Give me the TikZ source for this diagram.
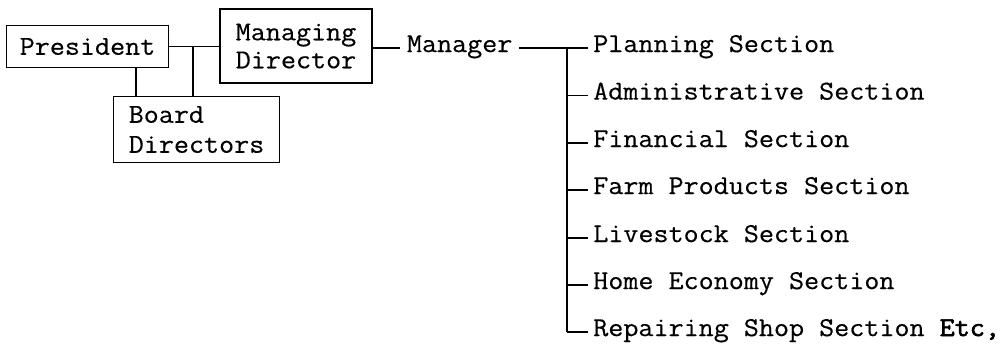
\documentclass[tikz,border=0pt]{standalone}
\usepackage{fontspec}
\setmonofont{Latin Modern Mono}[FakeStretch=1.07, FakeBold=0.4]
\newfontfamily\heavytt{Latin Modern Mono}[FakeStretch=1.07, FakeBold=2.2]
\begin{document}
\begin{tikzpicture}[x=0.75pt,y=-0.75pt,
  every node/.style={font=\fontsize{20.5pt}{21pt}\selectfont\ttfamily},
  box/.style={draw, line width=0.9pt, inner sep=0pt, align=center},
  label/.style={anchor=west, inner xsep=5pt, inner ysep=0pt, text height=0.61em, text depth=0pt},
  link/.style={line width=0.9pt}]
\useasboundingbox (0,0) rectangle (1007,343);

% boxes of the board level
\node[box, minimum width=121pt, minimum height=32pt] (pres) at (87.5,46.5) {President};
\node[box, minimum width=114pt, minimum height=55.5pt] (md) at (296,46) {Managing\\Director};
\node[box, minimum width=125pt, minimum height=49pt, align=left] (board) at (196.5,129.5) {Board\\[1.5pt]Directors};

% manager and the sections below it
\node[label] (mgr) at (400,48) {Manager};
\node[label, inner xsep=3.75pt] (s1) at (588,48) {Planning Section};
\node[label, inner xsep=3.75pt] (s2) at (588,95.5) {Administrative Section};
\node[label, inner xsep=3.75pt] (s3) at (588,143) {Financial Section};
\node[label, inner xsep=3.75pt] (s4) at (588,190) {Farm Products Section};
\node[label, inner xsep=3.75pt] (s5) at (588,238) {Livestock Section};
\node[label, inner xsep=3.75pt] (s6) at (588,285) {Home Economy Section};
\node[label, inner xsep=3.75pt] (s7) at (588,332) {Repairing Shop Section {\heavytt Etc,}};

% junction points
\coordinate (jp) at (136,0);
\coordinate (jb) at (193,0);
\coordinate (v) at (567,0);

% board level connectors
\draw[link] (pres.east) -- (pres.east -| md.west);
\draw[link] (jb |- pres.east) -- (jb |- board.north);
\draw[link] (jp |- pres.south) -- (jp |- board.north);
\draw[link] (md.east |- mgr.west) -- (mgr.west);

% manager to sections
\draw[link] (mgr.east) -- (s1.west);
\draw[link] (v |- s1.west) -- (v |- s7.west);
\foreach \s in {s2,s3,s4,s5,s6,s7}
  \draw[link] (v |- \s.west) -- (\s.west);
\end{tikzpicture}
\end{document}
